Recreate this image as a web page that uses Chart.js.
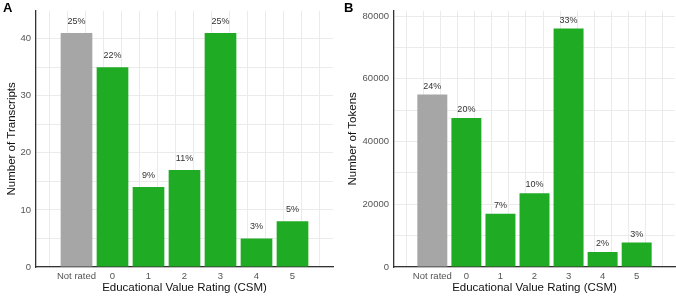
<!DOCTYPE html>
<html>
<head>
<meta charset="utf-8">
<script src="https://cdn.jsdelivr.net/npm/chart.js@4.4.1/dist/chart.umd.min.js"></script>
<style>
  html, body { margin: 0; padding: 0; background: #ffffff; }
  #wrap { position: relative; width: 676px; height: 299px; }
  .pane { position: absolute; top: 0; height: 299px; }
  #pa { left: 0; width: 338px; }
  #pb { left: 338px; width: 338px; }
</style>
</head>
<body>
<div id="wrap">
  <div class="pane" id="pa"><canvas id="ca"></canvas></div>
  <div class="pane" id="pb"><canvas id="cb"></canvas></div>
</div>
<script>
// ---- data ----
const categories = ["Not rated", "0", "1", "2", "3", "4", "5"];
const transcripts = [41, 35, 14, 17, 41, 5, 8];
const transcriptPct = ["25%", "22%", "9%", "11%", "25%", "3%", "5%"];
const tokens = [55000, 47500, 17000, 23500, 76000, 4800, 7800];
const tokenPct = ["24%", "20%", "7%", "10%", "33%", "2%", "3%"];
const yTicksA = [0, 5, 10, 15, 20, 25, 30, 35, 40];
const yTicksB = [0, 10000, 20000, 30000, 40000, 50000, 60000, 70000, 80000];
const xGridVals = [-0.5, 0, 0.5, 1, 1.5, 2, 2.5, 3, 3.5, 4, 4.5, 5, 5.5, 6, 6.5];

const GREY = "#a6a6a6";
const GREEN = "#20ab24";
const FONT = "'Liberation Sans', Arial, sans-serif";

const labelPlugin = {
  id: "barLabels",
  afterDatasetsDraw(chart, args, opts) {
    const ctx = chart.ctx;
    const meta = chart.getDatasetMeta(0);
    ctx.save();
    ctx.font = "9px " + FONT;
    ctx.fillStyle = "#333333";
    ctx.textAlign = "center";
    ctx.textBaseline = "middle";
    meta.data.forEach((bar, i) => {
      ctx.fillText(opts.labels[i], bar.x, bar.y - opts.offset);
    });
    ctx.font = "bold 13px " + FONT;
    ctx.fillStyle = "#000000";
    ctx.textAlign = "left";
    ctx.fillText(opts.panel, opts.px, 8.5);
    ctx.restore();
  }
};

function makeChart(id, values, pct, yTicks, yMax, yTitle, cfg) {
  const colors = categories.map((c, i) => i === 0 ? GREY : GREEN);
  return new Chart(document.getElementById(id), {
    type: "bar",
    data: {
      datasets: [{
        data: categories.map((c, i) => ({ x: i, y: values[i] })),
        backgroundColor: colors,
        borderWidth: 0,
        // grid ticks every half unit make the ruler's sample size half a category
        barPercentage: 1.76,
        categoryPercentage: 1.0
      }]
    },
    options: {
      responsive: true,
      maintainAspectRatio: false,
      animation: false,
      layout: { padding: { left: 0, right: cfg.padRight, top: cfg.padTop, bottom: 0 } },
      plugins: {
        legend: { display: false },
        tooltip: { enabled: false },
        barLabels: { labels: pct, offset: cfg.labOffset, panel: cfg.panel, px: cfg.panelX }
      },
      scales: {
        x: {
          type: "linear",
          min: -0.85,
          max: 6.85,
          afterBuildTicks: (s) => { s.ticks = xGridVals.map(v => ({ value: v })); },
          afterFit: (s) => { s.height = cfg.xHeight; },
          grid: { color: "#ebebeb", lineWidth: 1, drawTicks: false },
          border: { display: true, color: "#333333", width: 1.3 },
          ticks: {
            autoSkip: false,
            maxRotation: 0,
            padding: 4,
            color: "#555555",
            font: { family: FONT, size: 9.5 },
            callback: (v) => Number.isInteger(v) ? categories[v] : ""
          },
          title: {
            display: true,
            text: "Educational Value Rating (CSM)",
            color: "#111111",
            font: { family: FONT, size: 11.5 },
            padding: { top: 0, bottom: 4 }
          }
        },
        y: {
          min: 0,
          max: yMax,
          afterBuildTicks: (s) => { s.ticks = yTicks.map(v => ({ value: v })); },
          afterFit: (s) => { s.width = cfg.yWidth; },
          grid: { color: "#ebebeb", lineWidth: 1, drawTicks: false },
          border: { display: true, color: "#333333", width: 1.3 },
          ticks: {
            padding: 5,
            color: "#555555",
            font: { family: FONT, size: 9.5 },
            callback: (v) => (v % (cfg.majorStep) === 0) ? String(v) : ""
          },
          title: {
            display: true,
            text: yTitle,
            color: "#111111",
            font: { family: FONT, size: 11.5 },
            padding: { top: cfg.yTitlePad, bottom: 0 }
          }
        }
      }
    },
    plugins: [labelPlugin]
  });
}

makeChart("ca", transcripts, transcriptPct, yTicksA, 44.9, "Number of Transcripts",
  { padRight: 5, padTop: 3, xHeight: 32, yWidth: 36, labOffset: 11.7, panel: "A", panelX: 3, yTitlePad: 4.5, majorStep: 10 });
makeChart("cb", tokens, tokenPct, yTicksB, 81700, "Number of Tokens",
  { padRight: 1, padTop: 2, xHeight: 32, yWidth: 56, labOffset: 8.3, panel: "B", panelX: 6, yTitlePad: 7.5, majorStep: 20000 });
</script>
</body>
</html>
